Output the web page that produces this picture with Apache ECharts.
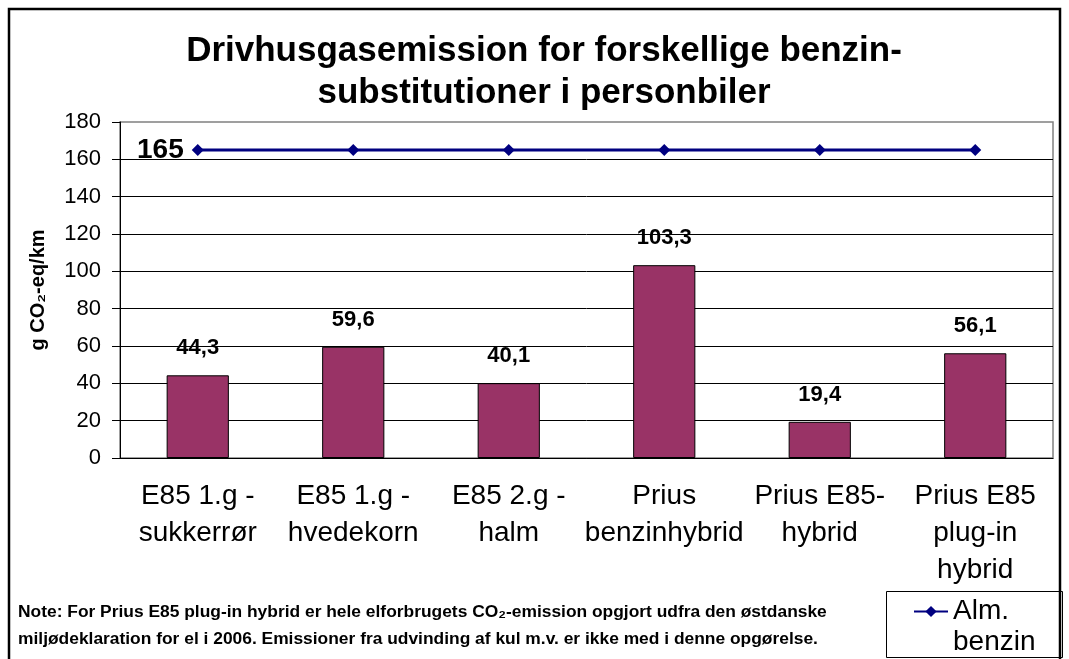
<!DOCTYPE html>
<html lang="da">
<head>
<meta charset="UTF-8">
<title>Drivhusgasemission</title>
<script src="https://cdn.jsdelivr.net/npm/echarts@6/dist/echarts.min.js"></script>
<style>
  html, body { margin: 0; padding: 0; background: #fff; }
  #chart { width: 1069px; height: 659px; }
</style>
</head>
<body>
<div id="chart"></div>
<script>
var categories = ['E85 1.g -\nsukkerrør', 'E85 1.g -\nhvedekorn', 'E85 2.g -\nhalm', 'Prius\nbenzinhybrid', 'Prius E85-\nhybrid', 'Prius E85\nplug-in\nhybrid']
var emissions = [44.3, 59.6, 40.1, 103.3, 19.4, 56.1]
var benzin = [165, 165, 165, 165, 165, 165]
var lineName = 'Alm.\nbenzin'
var noteText = 'Note: For Prius E85 plug-in hybrid er hele elforbrugets CO₂-emission opgjort udfra den østdanske\nmiljødeklaration for el i 2006. Emissioner fra udvinding af kul m.v. er ikke med i denne opgørelse.'

var font = 'Liberation Sans, Arial, sans-serif'
var chart = echarts.init(document.getElementById('chart'))

function comma(v) {
    return String(v).replace('.', ',')
}

// only the first point of the benzin line carries the "165" label
var lineData = benzin.map(function (v, i) {
    if (i === 0) {
        return {
            value: v,
            label: { show: true, position: 'left', distance: 8, fontSize: 28, fontWeight: 'bold', color: '#000', fontFamily: font }
        }
    }
    return v
})

var option = {
    backgroundColor: '#fff',
    animation: false,
    textStyle: { fontFamily: font },
    title: {
        text: 'Drivhusgasemission for forskellige benzin-\nsubstitutioner i personbiler',
        left: 539,
        top: 25,
        textAlign: 'center',
        textStyle: { fontSize: 35, fontWeight: 'bold', color: '#000', lineHeight: 42, fontFamily: font }
    },
    legend: {
        data: [lineName],
        left: 913,
        top: 565,
        padding: 0,
        itemWidth: 34,
        itemHeight: 14,
        itemGap: 0,
        // leading empty line so the icon sits level with "Alm."
        formatter: function (name) { return '\n' + name },
        textStyle: { fontSize: 28, lineHeight: 31, color: '#000', fontFamily: font }
    },
    grid: {
        left: 120,
        right: 16,
        top: 122,
        bottom: 201,
        show: true,
        borderColor: '#808080',
        borderWidth: 1.5
    },
    xAxis: {
        type: 'category',
        data: categories,
        axisLine: { lineStyle: { color: '#000', width: 1 } },
        axisTick: { length: 8, lineStyle: { color: '#000' } },
        axisLabel: { interval: 0, fontSize: 28, lineHeight: 37, margin: 20, color: '#000', fontFamily: font }
    },
    yAxis: {
        type: 'value',
        min: 0,
        max: 180,
        interval: 20,
        name: 'g CO₂-eq/km',
        nameLocation: 'middle',
        nameGap: 72,
        nameTextStyle: { fontSize: 20, fontWeight: 'bold', color: '#000', fontFamily: font },
        axisLine: { show: true, lineStyle: { color: '#000', width: 1 } },
        axisTick: { show: true, length: 8, lineStyle: { color: '#000' } },
        axisLabel: { fontSize: 22, margin: 19, color: '#000', fontFamily: font },
        splitLine: { show: true, showMaxLine: false, lineStyle: { color: '#000', width: 1 } }
    },
    series: [{
        name: 'Drivhusgasemission',
        type: 'bar',
        data: emissions,
        barWidth: '40%',
        itemStyle: { color: '#993366', borderColor: '#000', borderWidth: 1 },
        label: {
            show: true,
            position: 'top',
            distance: 16,
            fontSize: 22,
            fontWeight: 'bold',
            color: '#000',
            fontFamily: font,
            formatter: function (p) { return comma(p.value) }
        }
    }, {
        name: lineName,
        type: 'line',
        data: lineData,
        z: 5,
        symbol: 'diamond',
        symbolSize: 12,
        lineStyle: { color: '#000080', width: 3 },
        itemStyle: { color: '#000080' }
    }],
    graphic: [{
        type: 'rect',
        shape: { x: 9, y: 9, width: 1051, height: 700 },
        style: { fill: 'none', stroke: '#000', lineWidth: 2.5 },
        silent: true
    }, {
        type: 'rect',
        shape: { x: 886.5, y: 591.5, width: 176, height: 66 },
        style: { fill: 'none', stroke: '#000', lineWidth: 1 },
        silent: true
    }, {
        type: 'text',
        left: 18,
        top: 599,
        style: { text: noteText, font: 'bold 17.4px ' + font, lineHeight: 27, fill: '#000' }
    }]
}

chart.setOption(option)
</script>
</body>
</html>
